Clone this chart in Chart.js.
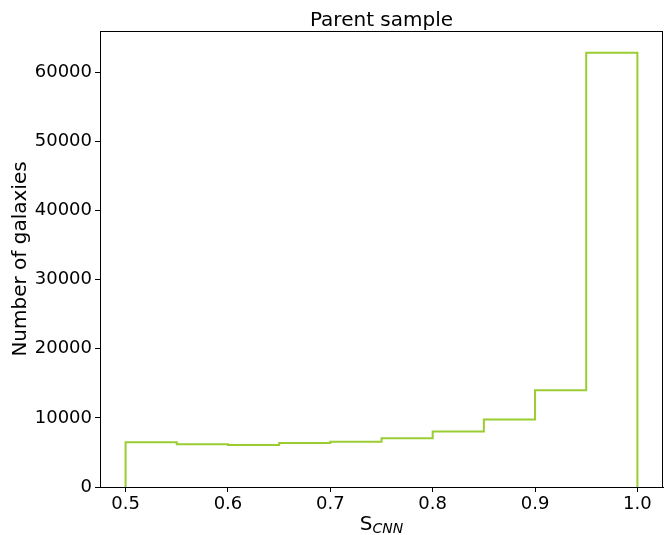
<!DOCTYPE html>
<html>
<head>
<meta charset="utf-8">
<script src="https://cdn.jsdelivr.net/npm/chart.js@4/dist/chart.umd.min.js"></script>
<style>
  html, body { margin: 0; padding: 0; background: #fff; }
  #wrap { width: 665px; height: 535px; }
</style>
</head>
<body>
<div id="wrap"><canvas id="myChart" width="665" height="535"></canvas></div>
<script>
// histogram bin edges and counts
const binEdges = [0.5, 0.55, 0.6, 0.65, 0.7, 0.75, 0.8, 0.85, 0.9, 0.95, 1.0];
const counts = [6460, 6170, 6090, 6380, 6560, 7050, 8010, 9750, 14000, 62800];
const xTicks = [0.5, 0.6, 0.7, 0.8, 0.9, 1.0];
const yTicks = [0, 10000, 20000, 30000, 40000, 50000, 60000];

const FONT = 'DejaVu Sans';
const lineColor = '#9acd32';

// step outline as explicit corners: up at first edge, across each bin, down at last edge
const points = [{ x: binEdges[0], y: 0 }];
counts.forEach((c, i) => {
    points.push({ x: binEdges[i], y: c });
    points.push({ x: binEdges[i + 1], y: c });
});
points.push({ x: binEdges[binEdges.length - 1], y: 0 });

// frame, title over the axes, and the S_CNN label with a subscript
const frame = {
    id: 'frame',
    afterDraw(chart) {
        const { ctx, chartArea: a } = chart;
        const cx = (a.left + a.right) / 2;
        ctx.save();
        ctx.strokeStyle = '#000';
        ctx.lineWidth = 1;
        ctx.strokeRect(a.left + 0.5, a.top + 0.5, a.right - a.left - 1, a.bottom - a.top);

        ctx.fillStyle = '#000';
        ctx.textBaseline = 'alphabetic';
        ctx.textAlign = 'center';
        ctx.font = '20px "' + FONT + '"';
        ctx.fillText('Parent sample', cx, 26);

        const by = 530;
        ctx.font = '20px "' + FONT + '"';
        const w1 = ctx.measureText('S').width;
        ctx.font = 'italic 14px "' + FONT + '"';
        const w2 = ctx.measureText('CNN').width;
        const x0 = cx - (w1 + w2) / 2;
        ctx.textAlign = 'left';
        ctx.font = '20px "' + FONT + '"';
        ctx.fillText('S', x0, by);
        ctx.font = 'italic 14px "' + FONT + '"';
        ctx.fillText('CNN', x0 + w1, by + 3);
        ctx.restore();
    }
};

const config = {
    type: 'line',
    data: {
        datasets: [{
            data: points,
            borderColor: lineColor,
            borderWidth: 2,
            fill: false,
            pointRadius: 0,
            tension: 0,
        }]
    },
    options: {
        responsive: false,
        animation: false,
        layout: { padding: { left: 0, right: 2, top: 31, bottom: 0 } },
        plugins: {
            legend: { display: false },
            tooltip: { enabled: false },
            title: { display: false },
        },
        scales: {
            x: {
                type: 'linear',
                min: 0.475,
                max: 1.025,
                afterBuildTicks: (s) => { s.ticks = xTicks.map(v => ({ value: v })); },
                afterFit: (s) => { s.height = 48; },
                grid: { drawOnChartArea: false, tickLength: 5, color: '#000', tickColor: '#000' },
                border: { color: '#000' },
                ticks: {
                    color: '#000',
                    padding: 2,
                    maxRotation: 0,
                    font: { family: FONT, size: 18 },
                    callback: (v) => v.toFixed(1),
                },
            },
            y: {
                min: 0,
                max: 65940,
                afterBuildTicks: (s) => { s.ticks = yTicks.map(v => ({ value: v })); },
                afterFit: (s) => { s.width = 100; },
                grid: { drawOnChartArea: false, tickLength: 5, color: '#000', tickColor: '#000' },
                border: { color: '#000' },
                ticks: {
                    color: '#000',
                    padding: 3,
                    font: { family: FONT, size: 18 },
                    callback: (v) => String(v),
                },
                title: {
                    display: true,
                    text: 'Number of galaxies',
                    color: '#000',
                    font: { family: FONT, size: 20 },
                    padding: { top: 9, bottom: 0 },
                },
            },
        },
    },
    plugins: [frame],
};

new Chart(document.getElementById('myChart'), config);
</script>
</body>
</html>
